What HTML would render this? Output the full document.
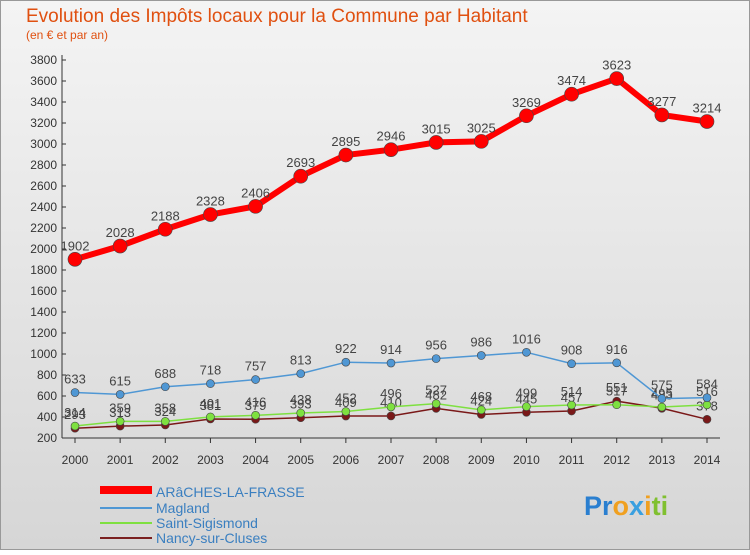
<!DOCTYPE html>
<html><head><meta charset="utf-8"><style>
body{margin:0;width:750px;height:550px;overflow:hidden;font-family:"Liberation Sans",sans-serif}
</style></head><body>
<svg width="750" height="550" xmlns="http://www.w3.org/2000/svg">
<defs><linearGradient id="bg" x1="0" y1="0" x2="0" y2="1"><stop offset="0" stop-color="#f4f4f4"/><stop offset="1" stop-color="#d6d6d6"/></linearGradient></defs>
<rect x="0.5" y="0.5" width="749" height="549" fill="url(#bg)" stroke="#999"/>
<text x="26" y="22" font-size="19" fill="#e05010">Evolution des Impôts locaux pour la Commune par Habitant</text>
<text x="26" y="39" font-size="12" fill="#e05010">(en € et par an)</text>
<g id="axes"></g><g id="series"></g>
<g>
<rect x="100" y="486" width="52" height="8" fill="#ff0000"/>
<text x="156" y="497" font-size="14" fill="#3a7fc0">ARâCHES-LA-FRASSE</text>
<line x1="100" y1="508" x2="152" y2="508" stroke="#4f97d4" stroke-width="2"/>
<text x="156" y="513" font-size="14" fill="#3a7fc0">Magland</text>
<line x1="100" y1="523" x2="152" y2="523" stroke="#7ee040" stroke-width="2"/>
<text x="156" y="528" font-size="14" fill="#3a7fc0">Saint-Sigismond</text>
<line x1="100" y1="538" x2="152" y2="538" stroke="#7a2020" stroke-width="2"/>
<text x="156" y="543" font-size="14" fill="#3a7fc0">Nancy-sur-Cluses</text>
</g>
<text x="584" y="515" font-size="27" font-weight="bold" fill="#3a90d0"><tspan fill="#2a7fd0">Pr</tspan><tspan fill="#f0a020">o</tspan><tspan fill="#3aa0e0">x</tspan><tspan fill="#f0a020">i</tspan><tspan fill="#80c030">ti</tspan></text>
</svg>
<script>
const years=[2000,2001,2002,2003,2004,2005,2006,2007,2008,2009,2010,2011,2012,2013,2014];
const yTicks=[200,400,600,800,1000,1200,1400,1600,1800,2000,2200,2400,2600,2800,3000,3200,3400,3600,3800];
const arches=[1902,2028,2188,2328,2406,2693,2895,2946,3015,3025,3269,3474,3623,3277,3214];
const magland=[633,615,688,718,757,813,922,914,956,986,1016,908,916,575,584];
const sigismond=[314,359,358,401,416,438,452,496,527,468,499,514,517,495,516];
const nancy=[293,313,324,381,379,393,409,410,482,424,445,457,551,483,378];
const NS="http://www.w3.org/2000/svg";
const X=i=>75+i*(707-75)/14;
const Y=v=>438-(v-200)*(438-60)/3600;
function mk(t,a,p){const e=document.createElementNS(NS,t);for(const k in a)e.setAttribute(k,a[k]);p.appendChild(e);return e;}
const ax=document.getElementById('axes');
yTicks.forEach(v=>{
 const t=mk('text',{x:57,y:Y(v)+4,'font-size':12,fill:'#333','text-anchor':'end'},ax);t.textContent=v;
 
 
 const l=mk('line',{x1:62,x2:66,y1:Y(v),y2:Y(v),stroke:'#333'},ax);
 
 
});
const ya=mk('line',{x1:62,x2:62,y1:55,y2:438,stroke:'#333'},ax);


const xa=mk('line',{x1:62,x2:720,y1:438,y2:438,stroke:'#333'},ax);


years.forEach((y,i)=>{
 const t=mk('text',{x:X(i),y:464,'font-size':12,fill:'#333','text-anchor':'middle'},ax);t.textContent=y;
 
 
 const l=mk('line',{x1:X(i),x2:X(i),y1:438,y2:443,stroke:'#333'},ax);
 
 
});
const sg=document.getElementById('series');
function draw(vals,color,w,r,name,fs){
 const g=mk('g',{},sg);
 
 
 const pl=mk('polyline',{points:vals.map((v,i)=>X(i)+','+Y(v)).join(' '),fill:'none',stroke:color,'stroke-width':w},g);
 
 
 vals.forEach((v,i)=>{
  const c=mk('circle',{cx:X(i),cy:Y(v),r:r,fill:color,stroke:'#444','stroke-width':0.6},g);
  
  
  const t=mk('text',{x:X(i),y:Y(v)-9,'font-size':fs,fill:'#444','text-anchor':'middle'},g);t.textContent=v;
  
  
 });
}
draw(nancy,'#7a1818',1.5,4,'nancy',13);
draw(sigismond,'#7ee040',1.5,4,'saint-sigismond',13);
draw(magland,'#4f97d4',1.5,4,'magland',13);
draw(arches,'#ff0000',6,7,'arches',13);
</script>
</body></html>
